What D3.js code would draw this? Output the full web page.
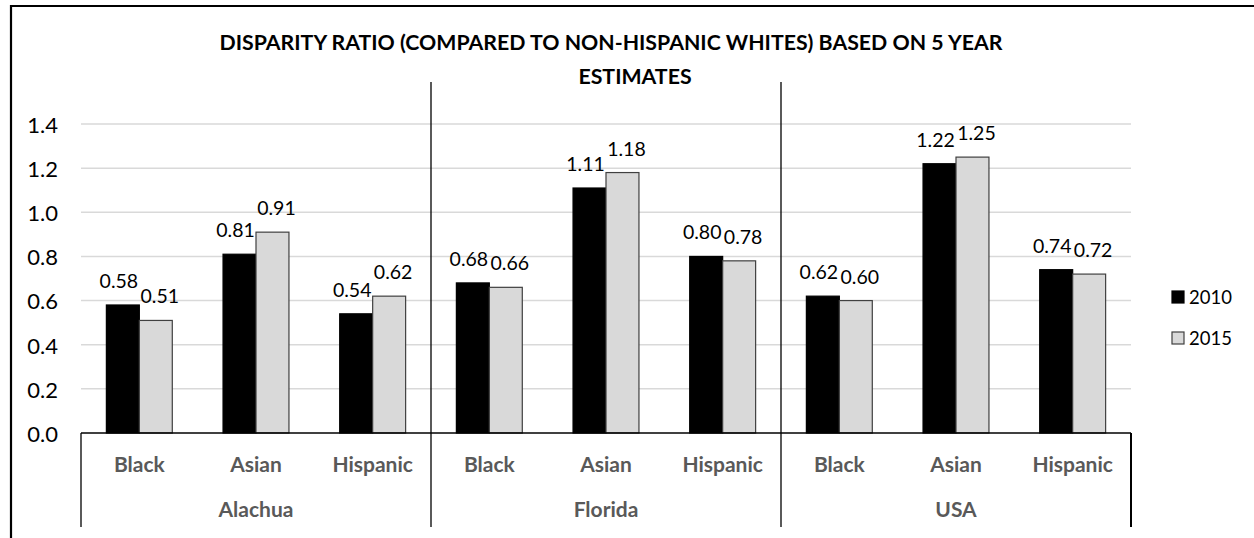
<!DOCTYPE html>
<html>
<head>
<meta charset="utf-8">
<script src="https://cdn.jsdelivr.net/npm/d3@7"></script>
<style>
  html, body { margin: 0; padding: 0; background: #fff; }
  svg { display: block; }
  text { font-family: Lato, "Open Sans", sans-serif; }
</style>
</head>
<body>
<svg id="chart" width="1254" height="538"></svg>
<script>
// ---- data ----
const groups = ["Alachua", "Florida", "USA"];
const categories = ["Black", "Asian", "Hispanic"];
const seriesNames = ["2010", "2015"];
const values2010 = [0.58, 0.81, 0.54, 0.68, 1.11, 0.80, 0.62, 1.22, 0.74];
const values2015 = [0.51, 0.91, 0.62, 0.66, 1.18, 0.78, 0.60, 1.25, 0.72];
const yTicks = [0.0, 0.2, 0.4, 0.6, 0.8, 1.0, 1.2, 1.4];
const titleLines = ["DISPARITY RATIO (COMPARED TO NON-HISPANIC WHITES) BASED ON 5 YEAR", "ESTIMATES"];

// ---- layout ----
const svg = d3.select("#chart");
const plotLeft = 81, plotRight = 1131, plotTop = 124, plotBottom = 433;
const colors = ["#000000", "#d9d9d9"];

const rows = [];
groups.forEach((g, gi) => categories.forEach((c, ci) => {
  rows.push({ key: g + "|" + c, group: g, cat: c, v: [values2010[gi * 3 + ci], values2015[gi * 3 + ci]] });
}));

const x0 = d3.scaleBand().domain(rows.map(r => r.key)).range([plotLeft, plotRight]).paddingInner(0.435).paddingOuter(0.2175);
const xg = d3.scaleBand().domain(groups).range([plotLeft, plotRight]);
const x1 = d3.scaleBand().domain(seriesNames).range([0, x0.bandwidth()]);
const y = d3.scaleLinear().domain([0, 1.4]).range([plotBottom, plotTop]);

// outer border (left + top)
svg.append("line").attr("x1", 11).attr("x2", 11).attr("y1", 5).attr("y2", 538).attr("stroke", "#000").attr("stroke-width", 2.2);
svg.append("line").attr("x1", 10).attr("x2", 1254).attr("y1", 6).attr("y2", 6).attr("stroke", "#000").attr("stroke-width", 2.2);

// title
const titleX = [611, 635], titleY = [50, 84];
titleLines.forEach((t, i) => {
  svg.append("text").attr("x", titleX[i]).attr("y", titleY[i]).attr("text-anchor", "middle")
    .attr("font-size", 21.3).attr("font-weight", 700).attr("fill", "#000").text(t);
});

// gridlines
svg.append("g").selectAll("line").data(yTicks.filter(d => d > 0)).join("line")
  .attr("x1", plotLeft).attr("x2", plotRight)
  .attr("y1", d => y(d)).attr("y2", d => y(d))
  .attr("stroke", "#d9d9d9").attr("stroke-width", 1.5);

// y axis labels
const yAxis = d3.axisLeft(y).tickValues(yTicks).tickFormat(d3.format(".1f")).tickSize(0).tickPadding(0);
const yg = svg.append("g").attr("transform", `translate(58,0)`).call(yAxis);
yg.select(".domain").remove();
yg.selectAll("text").attr("font-size", 22).attr("fill", "#000").attr("dy", "0.38em")
  .style("font-family", "Lato, 'Open Sans', sans-serif");

// bars
const barG = svg.append("g").selectAll("g").data(rows).join("g")
  .attr("transform", d => `translate(${x0(d.key)},0)`);
barG.selectAll("rect").data(d => d.v.map((v, i) => ({ v, s: seriesNames[i], i }))).join("rect")
  .attr("x", d => x1(d.s))
  .attr("y", d => y(d.v))
  .attr("width", x1.bandwidth())
  .attr("height", d => y(0) - y(d.v))
  .attr("fill", d => colors[d.i])
  .attr("stroke", d => d.i === 0 ? "#000" : "#404040")
  .attr("stroke-width", 1.2);

// value labels
barG.selectAll("text.val").data(d => d.v.map((v, i) => ({ v, s: seriesNames[i], i }))).join("text")
  .attr("class", "val")
  .attr("x", d => x1(d.s) + x1.bandwidth() / 2 + (d.i === 0 ? -4 : 4))
  .attr("y", d => y(d.v) - 17)
  .attr("text-anchor", "middle")
  .attr("font-size", 19.5).attr("fill", "#000")
  .text(d => d3.format(".2f")(d.v));

// x axis line
svg.append("line").attr("x1", plotLeft).attr("x2", plotRight).attr("y1", plotBottom).attr("y2", plotBottom)
  .attr("stroke", "#000").attr("stroke-width", 1.3);

// group separators / box lines
const sepX = [plotLeft].concat(groups.map(g => xg(g) + xg.bandwidth()));
svg.append("g").selectAll("line").data(sepX).join("line")
  .attr("x1", d => d).attr("x2", d => d)
  .attr("y1", (d, i) => (i === 0 || i === sepX.length - 1) ? plotBottom : 82)
  .attr("y2", 527)
  .attr("stroke", "#000").attr("stroke-width", (d, i) => i === sepX.length - 1 ? 2 : 1.3);

// category labels
svg.append("g").selectAll("text").data(rows).join("text")
  .attr("x", d => x0(d.key) + x0.bandwidth() / 2)
  .attr("y", 472)
  .attr("text-anchor", "middle")
  .attr("font-size", 21).attr("font-weight", 700).attr("fill", "#595959")
  .text(d => d.cat);

// group labels
svg.append("g").selectAll("text").data(groups).join("text")
  .attr("x", d => xg(d) + xg.bandwidth() / 2)
  .attr("y", 517)
  .attr("text-anchor", "middle")
  .attr("font-size", 21).attr("font-weight", 700).attr("fill", "#595959")
  .text(d => d);

// legend
const legY = [297, 338];
const leg = svg.append("g").selectAll("g").data(seriesNames).join("g")
  .attr("transform", (d, i) => `translate(1172,${legY[i]})`);
leg.append("rect").attr("x", 0).attr("y", -6).attr("width", 12).attr("height", 12)
  .attr("fill", (d, i) => colors[i]).attr("stroke", (d, i) => i === 0 ? "#000" : "#404040").attr("stroke-width", 1.2);
leg.append("text").attr("x", 17).attr("y", 0).attr("dy", "0.36em")
  .attr("font-size", 18.5).attr("fill", "#000").text(d => d);
</script>
</body>
</html>
